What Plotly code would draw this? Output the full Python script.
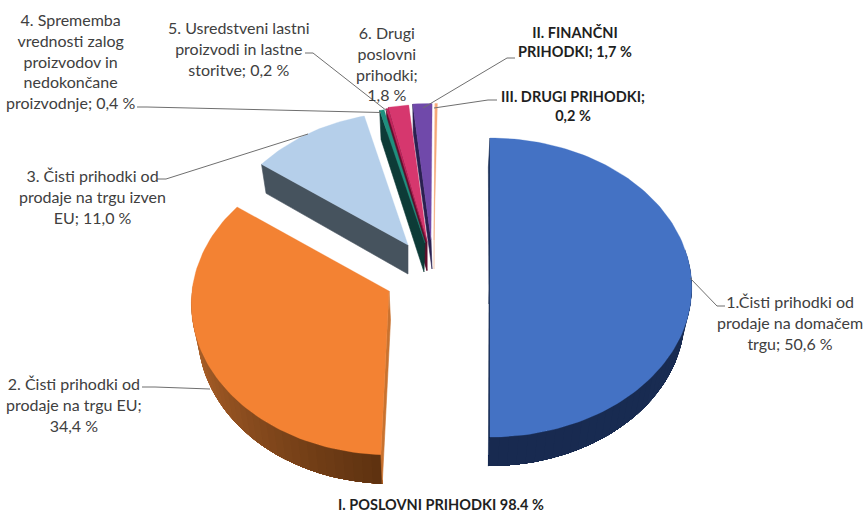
import math
import plotly.graph_objects as go

# ---------- data ----------
slice_names = [
    "1.Čisti prihodki od prodaje na domačem trgu",
    "2. Čisti prihodki od prodaje na trgu EU",
    "3. Čisti prihodki od prodaje na trgu izven EU",
    "4. Sprememba vrednosti zalog proizvodov in nedokončane proizvodnje",
    "5. Usredstveni lastni proizvodi in lastne storitve",
    "6. Drugi poslovni prihodki",
    "II. FINANČNI PRIHODKI",
    "III. DRUGI PRIHODKI",
]
slice_values = [50.6, 34.4, 11.0, 0.4, 0.2, 1.8, 1.7, 0.2]

label_lines = [
    "1.Čisti prihodki od<br>prodaje na domačem<br>trgu; 50,6 %",
    "2. Čisti prihodki od<br>prodaje na trgu EU;<br>34,4 %",
    "3. Čisti prihodki od<br>prodaje na trgu izven<br>EU; 11,0 %",
    "4. Sprememba<br>vrednosti zalog<br>proizvodov in<br>nedokončane<br>proizvodnje; 0,4 %",
    "5. Usredstveni lastni<br>proizvodi in lastne<br>storitve; 0,2 %",
    "6. Drugi<br>poslovni<br>prihodki;<br>1,8 %",
    "<b>II. FINANČNI<br>PRIHODKI; 1,7 %</b>",
    "<b>III. DRUGI PRIHODKI;<br>0,2 %</b>",
]
total_label = "<b>I. POSLOVNI PRIHODKI 98.4 %</b>"

# ---------- styling / layout ----------
W, H = 864, 512
top_colors = ["#4472c4", "#f38233", "#b5cfea", "#1f8f7e", "#c2245c", "#d6376e", "#7049aa", "#f5a878"]
face_colors = ["#182c52", "#c9722f", "#46535e", "#0d3b37", "#5e0f2c", "#6e1a3c", "#2a2050", "#f7c9ae"]
apex = [(490, 275), (389, 291), (408, 245), (425, 243), (427, 242), (427, 241), (431, 240), (434, 240)]
rx = [201, 197, 190, 197, 197, 197, 197, 197]
ry = [148.5, 150, 144, 148, 148, 148, 148, 148]
apex_shift = [-1, 1.5, 0, -1, 0, 0, 1, 0]
end_trim = [2.16, 0, 0, 0, 0, 0, 0, 0]
TILT = 0.084
DEPTH = 29
VX, VF = 430, 0.027
DEG_PER_PCT = 3.6

label_pos = [(790, 322), (74, 404), (92, 196), (70, 61), (239, 48), (387, 63), (575, 42), (573, 106)]
total_pos = (441, 504)
leaders = [
    [(690, 278), (717, 306), (725, 306)],
    [(142, 387), (155, 387), (210, 389)],
    [(157, 179), (166, 179), (308, 134)],
    [(137, 107), (147, 107), (381, 112.5)],
    [(305, 53), (313, 53), (387, 111)],
    [(515, 58), (507, 58), (423, 108)],
    [(497, 100), (488, 100), (434, 108)],
]


def rim(i, deg):
    t = math.radians(deg)
    u, v = math.sin(t), math.cos(t)
    s = 1 / (1 + TILT * v)
    return apex[i][0] + rx[i] * u * s, apex[i][1] - ry[i] * v * s


def drop(x, y):
    return x + (VX - x) * VF, y + DEPTH


def lerp(c1, c2, t):
    return "rgb(%d,%d,%d)" % tuple(c1[k] + (c2[k] - c1[k]) * t for k in range(3))


fig = go.Figure()


def poly(xs, ys, color, edge=0.6):
    fig.add_trace(go.Scatter(x=xs + xs[:1], y=ys + ys[:1], mode="lines", fill="toself",
                             fillcolor=color, line=dict(color=color, width=edge),
                             hoverinfo="skip", showlegend=False))


def face(i, deg):
    ox, oy = rim(i, deg)
    bx, by = drop(ox, oy)
    ax, ay = apex[i]
    poly([ax, ox, bx, ax + apex_shift[i]], [ay, oy, by, ay + DEPTH], face_colors[i])


def side(i, a0, a1, shade):
    # colour bands painted over each other, each running to the far end, so no seams show
    n = max(2, int(abs(a1 - a0) / 2.5))
    for k in range(n):
        d0 = a0 + (a1 - a0) * k / n
        m = max(2, n - k)
        pts = [rim(i, d0 + (a1 - d0) * j / m) for j in range(m + 1)]
        low = [drop(*p) for p in reversed(pts)]
        poly([p[0] for p in pts + low], [p[1] for p in pts + low], shade((k + 0.5) / n), edge=0)


def top(i, a0, a1):
    n = max(3, int(abs(a1 - a0) / 1.5))
    pts = [rim(i, a0 + (a1 - a0) * k / n) for k in range(n + 1)]
    xs = [apex[i][0]] + [p[0] for p in pts]
    ys = [apex[i][1]] + [p[1] for p in pts]
    poly(xs, ys, top_colors[i], edge=0.3)


# angular extents from the values
starts, ends = [], []
c = 0.0
for i, val in enumerate(slice_values):
    starts.append(c * DEG_PER_PCT)
    ends.append((c + val) * DEG_PER_PCT - end_trim[i])
    c += val

# back to front: narrow slices right to left, then the three large ones
for i in [7, 6, 5, 4, 3, 2]:
    face(i, starts[i])
    top(i, starts[i], ends[i])

# blue
face(0, starts[0])
face(0, ends[0])
side(0, 80, ends[0], lambda t: lerp((26, 46, 84), (24, 42, 80), t))
top(0, starts[0], ends[0])

# orange
side(1, ends[1] - 34, starts[1], lambda t: lerp((190, 108, 48), (94, 50, 16), t))
face(1, starts[1])
top(1, starts[1], ends[1])

# leader lines
for path in leaders:
    fig.add_trace(go.Scatter(x=[p[0] for p in path], y=[p[1] for p in path], mode="lines",
                             line=dict(color="#6f6f6f", width=1), hoverinfo="skip", showlegend=False))

annotations = []
for i, txt in enumerate(label_lines):
    bold = txt.startswith("<b>")
    annotations.append(dict(x=label_pos[i][0], y=label_pos[i][1], text=txt, showarrow=False,
                            xanchor="center", yanchor="middle", align="center",
                            font=dict(family="Lato", size=14.5 if bold else 16,
                                      color="#1f1f1f" if bold else "#404040")))
annotations.append(dict(x=total_pos[0], y=total_pos[1], text=total_label, showarrow=False,
                        xanchor="center", yanchor="middle",
                        font=dict(family="Lato", size=14.5, color="#1f1f1f")))

fig.update_layout(
    width=W, height=H, margin=dict(l=0, r=0, t=0, b=0),
    paper_bgcolor="white", plot_bgcolor="white", showlegend=False,
    xaxis=dict(range=[0, W], visible=False, fixedrange=True),
    yaxis=dict(range=[H, 0], visible=False, fixedrange=True),
    annotations=annotations,
)
fig.write_html("out.html", config=dict(displayModeBar=False),
               post_script="document.body.style.margin='0';document.body.style.overflow='hidden';")
